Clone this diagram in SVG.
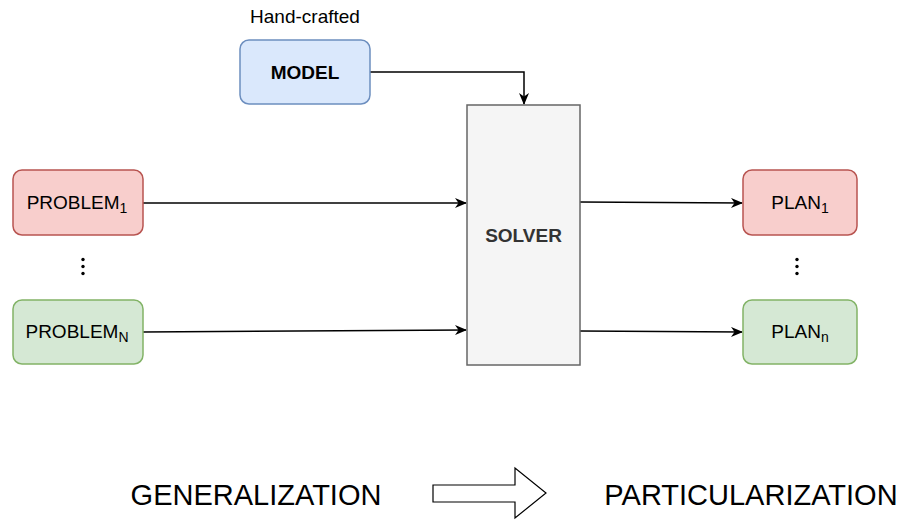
<svg xmlns="http://www.w3.org/2000/svg" width="900" height="520" viewBox="0 0 900 520">
  <defs>
    <marker id="arrow" viewBox="0 0 12 10" refX="11" refY="5" markerWidth="12" markerHeight="10" markerUnits="userSpaceOnUse" orient="auto">
      <path d="M0,0 L12,5 L0,10 L3.5,5 Z" fill="#000"/>
    </marker>
    <style>
      text { font-family: "Liberation Sans", Arial, Helvetica, sans-serif; fill: #000; }
      .lbl { font-size: 19px; text-anchor: middle; dominant-baseline: central; }
      .bold { font-weight: bold; }
      .big { font-size: 29px; }
      .edge { fill: none; stroke: #000; stroke-width: 1.5; marker-end: url(#arrow); }
      .blue { fill: #dae8fc; stroke: #6c8ebf; stroke-width: 1.5; }
      .red { fill: #f8cecc; stroke: #b85450; stroke-width: 1.5; }
      .green { fill: #d5e8d4; stroke: #82b366; stroke-width: 1.5; }
      .gray { fill: #f5f5f5; stroke: #666666; stroke-width: 1.5; }
      .dot { fill: #000; }
    </style>
  </defs>

  <!-- connectors -->
  <g id="edges">
    <path class="edge" d="M370,72 H524 V104"/>
    <path class="edge" d="M143,203 H466"/>
    <path class="edge" d="M143,332 L466,330"/>
    <path class="edge" d="M580,202 L742,203"/>
    <path class="edge" d="M580,331 L742,332"/>
  </g>

  <g id="model">
    <text x="305" y="16" class="lbl">Hand-crafted</text>
    <rect class="blue" x="240" y="40" width="130" height="64" rx="9"/>
    <text x="305" y="72" class="lbl bold">MODEL</text>
  </g>

  <g id="solver">
    <rect class="gray" x="467" y="105" width="113" height="260"/>
    <text x="523.5" y="235" class="lbl bold" style="fill:#333333">SOLVER</text>
  </g>

  <g id="problem1">
    <rect class="red" x="13" y="170" width="130" height="65" rx="9"/>
    <text x="77" y="202" class="lbl">PROBLEM<tspan font-size="14" dy="6">1</tspan></text>
  </g>

  <g id="problemDots">
    <circle class="dot" cx="83" cy="259.5" r="1.7"/>
    <circle class="dot" cx="83" cy="266.5" r="1.7"/>
    <circle class="dot" cx="83" cy="273.5" r="1.7"/>
  </g>

  <g id="problemN">
    <rect class="green" x="13" y="300" width="130" height="64" rx="9"/>
    <text x="77" y="331" class="lbl">PROBLEM<tspan font-size="14" dy="6">N</tspan></text>
  </g>

  <g id="plan1">
    <rect class="red" x="743" y="170" width="114" height="65" rx="9"/>
    <text x="800" y="202" class="lbl">PLAN<tspan font-size="14" dy="6">1</tspan></text>
  </g>

  <g id="planDots">
    <circle class="dot" cx="797" cy="259.5" r="1.7"/>
    <circle class="dot" cx="797" cy="266.5" r="1.7"/>
    <circle class="dot" cx="797" cy="273.5" r="1.7"/>
  </g>

  <g id="planN">
    <rect class="green" x="743" y="300" width="114" height="64" rx="9"/>
    <text x="800" y="331" class="lbl">PLAN<tspan font-size="14" dy="6">n</tspan></text>
  </g>

  <!-- bottom caption with block arrow -->
  <g id="caption">
    <text x="256" y="505" class="big" text-anchor="middle">GENERALIZATION</text>
    <polygon points="433,485 515,485 515,468 546,493 515,518 515,502 433,502" fill="#fff" stroke="#000" stroke-width="1.2"/>
    <text x="751" y="505" class="big" text-anchor="middle">PARTICULARIZATION</text>
  </g>
</svg>
